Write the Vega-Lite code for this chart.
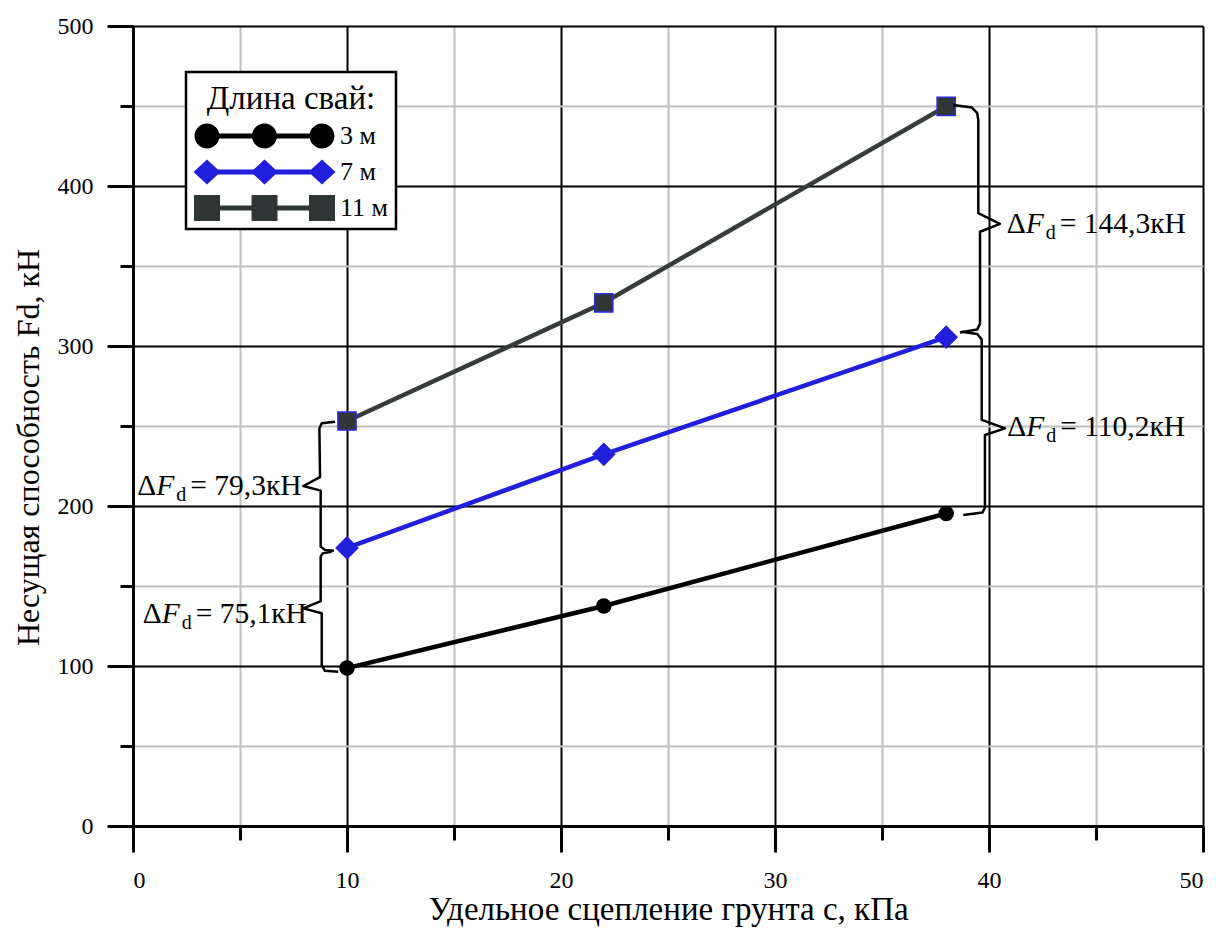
{
  "$schema": "https://vega.github.io/schema/vega-lite/v6.json",
  "autosize": {"type": "none"},
  "padding": {"left": 133, "top": 26, "right": 13, "bottom": 103},
  "width": 1070,
  "height": 800,
  "background": "white",
  "config": {
    "view": {"stroke": null},
    "font": "Liberation Serif"
  },
  "datasets": {
    "series": [
      {"s": "3 м", "c": 10, "f": 98.7},
      {"s": "3 м", "c": 22, "f": 137.5},
      {"s": "3 м", "c": 38, "f": 195.3},
      {"s": "7 м", "c": 10, "f": 173.8},
      {"s": "7 м", "c": 22, "f": 232.3},
      {"s": "7 м", "c": 38, "f": 305.5},
      {"s": "11 м", "c": 10, "f": 253.1},
      {"s": "11 м", "c": 22, "f": 327.0},
      {"s": "11 м", "c": 38, "f": 449.8}
    ],
    "braces": [
      {"b": "R1", "i": 0, "c": 38.33, "f": 450.6},
      {"b": "R1", "i": 1, "c": 39.2, "f": 449.0},
      {"b": "R1", "i": 2, "c": 39.45, "f": 445.5},
      {"b": "R1", "i": 3, "c": 39.5, "f": 441.0},
      {"b": "R1", "i": 4, "c": 39.5, "f": 383.0},
      {"b": "R1", "i": 5, "c": 40.51, "f": 376.3},
      {"b": "R1", "i": 6, "c": 39.58, "f": 371.4},
      {"b": "R1", "i": 7, "c": 39.58, "f": 314.0},
      {"b": "R1", "i": 8, "c": 39.45, "f": 310.3},
      {"b": "R1", "i": 9, "c": 38.64, "f": 308.5},
      {"b": "R2", "i": 0, "c": 38.72, "f": 308.9},
      {"b": "R2", "i": 1, "c": 39.45, "f": 307.5},
      {"b": "R2", "i": 2, "c": 39.66, "f": 304.0},
      {"b": "R2", "i": 3, "c": 39.66, "f": 253.8},
      {"b": "R2", "i": 4, "c": 40.75, "f": 248.5},
      {"b": "R2", "i": 5, "c": 39.81, "f": 244.4},
      {"b": "R2", "i": 6, "c": 39.81, "f": 199.0},
      {"b": "R2", "i": 7, "c": 39.7, "f": 196.0},
      {"b": "R2", "i": 8, "c": 38.8, "f": 194.4},
      {"b": "L1", "i": 0, "c": 9.44, "f": 252.7},
      {"b": "L1", "i": 1, "c": 8.82, "f": 251.7},
      {"b": "L1", "i": 2, "c": 8.71, "f": 248.5},
      {"b": "L1", "i": 3, "c": 8.74, "f": 218.0},
      {"b": "L1", "i": 4, "c": 7.96, "f": 212.5},
      {"b": "L1", "i": 5, "c": 8.77, "f": 209.6},
      {"b": "L1", "i": 6, "c": 8.77, "f": 174.6},
      {"b": "L1", "i": 7, "c": 8.97, "f": 172.5},
      {"b": "L1", "i": 8, "c": 9.39, "f": 172.1},
      {"b": "L2", "i": 0, "c": 9.28, "f": 171.4},
      {"b": "L2", "i": 1, "c": 8.86, "f": 170.4},
      {"b": "L2", "i": 2, "c": 8.77, "f": 168.3},
      {"b": "L2", "i": 3, "c": 8.77, "f": 140.6},
      {"b": "L2", "i": 4, "c": 7.96, "f": 136.0},
      {"b": "L2", "i": 5, "c": 8.82, "f": 133.0},
      {"b": "L2", "i": 6, "c": 8.82, "f": 100.6},
      {"b": "L2", "i": 7, "c": 8.97, "f": 97.0},
      {"b": "L2", "i": 8, "c": 9.59, "f": 96.4}
    ],
    "ann": [
      {"c": 40.83, "f": 370.8, "v": "= 144,3кН"},
      {"c": 40.85, "f": 243.75, "v": "= 110,2кН"},
      {"c": 0.2, "f": 206.9, "v": "= 79,3кН"},
      {"c": 0.45, "f": 127.0, "v": "= 75,1кН"}
    ]
  },
  "resolve": {"axis": {"x": "independent", "y": "independent"}},
  "layer": [
    {
      "data": {"name": "series"},
      "transform": [{"filter": "datum.s == '3 м'"}],
      "mark": {"type": "line", "strokeWidth": 4.5, "color": "#000000"},
      "encoding": {
        "x": {"field": "c", "type": "quantitative",
          "scale": {"domain": [0, 50], "nice": false, "zero": false},
          "axis": {"orient": "bottom", "values": [5, 15, 25, 35, 45], "grid": true, "gridColor": "#c0c0c0", "gridWidth": 2,
            "tickSize": 14, "tickWidth": 3, "tickColor": "#000", "labels": false, "domain": false, "title": null}},
        "y": {"field": "f", "type": "quantitative",
          "scale": {"domain": [0, 500], "nice": false, "zero": false},
          "axis": {"orient": "left", "values": [50, 150, 250, 350, 450], "grid": true, "gridColor": "#c0c0c0", "gridWidth": 2,
            "tickSize": 13, "tickWidth": 3, "tickColor": "#000", "labels": false, "domain": false, "title": null}}
      }
    },
    {
      "data": {"name": "series"},
      "transform": [{"filter": "datum.s == '7 м'"}],
      "mark": {"type": "line", "strokeWidth": 4.5, "color": "#1f1fdc"},
      "encoding": {
        "x": {"field": "c", "type": "quantitative", "axis": null},
        "y": {"field": "f", "type": "quantitative", "axis": null}
      }
    },
    {
      "data": {"name": "series"},
      "transform": [{"filter": "datum.s == '11 м'"}],
      "mark": {"type": "line", "strokeWidth": 4.5, "color": "#363c3c"},
      "encoding": {
        "x": {"field": "c", "type": "quantitative", "axis": null},
        "y": {"field": "f", "type": "quantitative", "axis": null}
      }
    },
    {
      "data": {"name": "series"},
      "transform": [{"filter": "datum.s == '3 м'"}],
      "mark": {"type": "point", "shape": "circle", "filled": true, "size": 240, "opacity": 1, "color": "#000000"},
      "encoding": {
        "x": {"field": "c", "type": "quantitative",
          "axis": {"orient": "bottom", "values": [0, 10, 20, 30, 40, 50], "grid": true, "gridColor": "#000", "gridWidth": 2,
            "tickSize": 26, "tickWidth": 3, "tickColor": "#000", "domain": true, "domainWidth": 3, "domainColor": "#000",
            "labelFont": "Liberation Serif", "labelFontSize": 24, "labelColor": "#000", "labelPadding": 16,
            "title": "Удельное сцепление грунта c, кПа", "titleFont": "Liberation Serif", "titleFontSize": 33,
            "titleFontWeight": "normal", "titleColor": "#000", "titlePadding": 1}},
        "y": {"field": "f", "type": "quantitative",
          "axis": {"orient": "left", "values": [0, 100, 200, 300, 400, 500], "grid": true, "gridColor": "#000", "gridWidth": 2,
            "tickSize": 26, "tickWidth": 3, "tickColor": "#000", "domain": true, "domainWidth": 3, "domainColor": "#000",
            "labelFont": "Liberation Serif", "labelFontSize": 24, "labelColor": "#000", "labelPadding": 14,
            "title": "Несущая способность Fd, кН", "titleFont": "Liberation Serif", "titleFontSize": 32,
            "titleFontWeight": "normal", "titleColor": "#000", "titlePadding": 12, "titleY": 421}}
      }
    },
    {
      "data": {"name": "series"},
      "transform": [{"filter": "datum.s == '7 м'"}],
      "mark": {"type": "point", "shape": "diamond", "filled": true, "size": 560, "opacity": 1, "color": "#1f1fdc"},
      "encoding": {
        "x": {"field": "c", "type": "quantitative", "axis": null},
        "y": {"field": "f", "type": "quantitative", "axis": null}
      }
    },
    {
      "data": {"name": "series"},
      "transform": [{"filter": "datum.s == '11 м'"}],
      "mark": {"type": "point", "shape": "square", "filled": true, "size": 330, "opacity": 1, "fill": "#303636", "stroke": "#2a2ae0", "strokeWidth": 1.5},
      "encoding": {
        "x": {"field": "c", "type": "quantitative", "axis": null},
        "y": {"field": "f", "type": "quantitative", "axis": null}
      }
    },
    {
      "data": {"name": "braces"},
      "mark": {"type": "line", "color": "#000", "strokeWidth": 2.5, "strokeJoin": "round"},
      "encoding": {
        "x": {"field": "c", "type": "quantitative", "axis": null},
        "y": {"field": "f", "type": "quantitative", "axis": null},
        "detail": {"field": "b", "type": "nominal"},
        "order": {"field": "i", "type": "quantitative"}
      }
    },
    {
      "data": {"name": "ann"},
      "mark": {"type": "text", "text": "Δ", "align": "left", "baseline": "alphabetic", "font": "Liberation Serif", "fontSize": 29.5, "color": "#000"},
      "encoding": {
        "x": {"field": "c", "type": "quantitative", "axis": null},
        "y": {"field": "f", "type": "quantitative", "axis": null}
      }
    },
    {
      "data": {"name": "ann"},
      "mark": {"type": "text", "text": "F", "align": "left", "baseline": "alphabetic", "font": "Liberation Serif", "fontStyle": "italic", "fontSize": 29.5, "dx": 19, "color": "#000"},
      "encoding": {
        "x": {"field": "c", "type": "quantitative", "axis": null},
        "y": {"field": "f", "type": "quantitative", "axis": null}
      }
    },
    {
      "data": {"name": "ann"},
      "mark": {"type": "text", "text": "d", "align": "left", "baseline": "alphabetic", "font": "Liberation Serif", "fontSize": 20, "dx": 39, "dy": 6, "color": "#000"},
      "encoding": {
        "x": {"field": "c", "type": "quantitative", "axis": null},
        "y": {"field": "f", "type": "quantitative", "axis": null}
      }
    },
    {
      "data": {"name": "ann"},
      "mark": {"type": "text", "align": "left", "baseline": "alphabetic", "font": "Liberation Serif", "fontSize": 29.5, "dx": 53, "color": "#000"},
      "encoding": {
        "x": {"field": "c", "type": "quantitative", "axis": null},
        "y": {"field": "f", "type": "quantitative", "axis": null},
        "text": {"field": "v", "type": "nominal"}
      }
    },
    {
      "data": {"name": "series"},
      "mark": {"type": "point", "filled": true, "clip": true},
      "encoding": {
        "x": {"datum": -100, "type": "quantitative", "axis": null},
        "y": {"datum": -1000, "type": "quantitative", "axis": null},
        "color": {"field": "s", "type": "nominal",
          "scale": {"domain": ["3 м", "7 м", "11 м"], "range": ["#000000", "#1f1fdc", "#303636"]},
          "legend": {
            "orient": "none", "legendX": 53, "legendY": 46,
            "title": "Длина свай:", "titleFont": "Liberation Serif", "titleFontSize": 33, "titleFontWeight": "normal",
            "titleColor": "#000", "titleAnchor": "middle", "titlePadding": 10,
            "labelFont": "Liberation Serif", "labelFontSize": 26, "labelColor": "#000", "labelOffset": 120, "labelLimit": 200,
            "symbolSize": 625, "symbolOpacity": 1, "symbolStrokeWidth": 0,
            "fillColor": "white", "strokeColor": "black", "padding": 8, "rowPadding": 10,
            "encode": {
              "legend": {"update": {"strokeWidth": {"value": 2.5}}},
              "title": {"update": {"dy": {"value": 3}}}
            }
          }},
        "shape": {"field": "s", "type": "nominal",
          "scale": {"domain": ["3 м", "7 м", "11 м"],
            "range": [
              "M 0,-0.2 H 9.2 V 0.2 H 0 Z M 1,0 A 1,1 0 1 1 -1,0 A 1,1 0 1 1 1,0 Z M 5.6,0 A 1,1 0 1 1 3.6,0 A 1,1 0 1 1 5.6,0 Z M 10.2,0 A 1,1 0 1 1 8.2,0 A 1,1 0 1 1 10.2,0 Z",
              "M 0,-0.2 H 9.2 V 0.2 H 0 Z M -1.08,0 L 0,-1 L 1.08,0 L 0,1 Z M 3.52,0 L 4.6,-1 L 5.68,0 L 4.6,1 Z M 8.12,0 L 9.2,-1 L 10.28,0 L 9.2,1 Z",
              "M 0,-0.2 H 9.2 V 0.2 H 0 Z M -1.04,-1.04 H 1.04 V 1.04 H -1.04 Z M 3.56,-1.04 H 5.64 V 1.04 H 3.56 Z M 8.16,-1.04 H 10.24 V 1.04 H 8.16 Z"
            ]}}
      }
    }
  ]
}
